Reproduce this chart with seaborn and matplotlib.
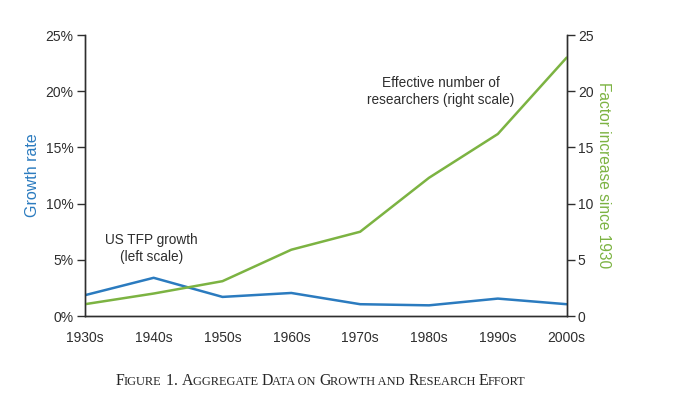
import pandas as pd
import seaborn as sns
from matplotlib import pyplot as plt
from matplotlib.ticker import FuncFormatter
from matplotlib.offsetbox import TextArea, HPacker, AnchoredOffsetbox

# data
decades = ['1930s', '1940s', '1950s', '1960s', '1970s', '1980s', '1990s', '2000s']
tfp_growth = [1.85, 3.4, 1.7, 2.05, 1.05, 0.95, 1.55, 1.05]          # percent, left scale
researchers = [1.05, 2.0, 3.1, 5.9, 7.5, 12.3, 16.2, 23.0]          # factor since 1930, right scale

df = pd.DataFrame({'decade': decades, 'tfp': tfp_growth, 'res': researchers})

blue = '#2b7bbf'
green = '#7cb342'
dark = '#2e2e2e'

sns.set_style('white')
plt.rcParams['font.family'] = ['Liberation Sans', 'DejaVu Sans']

fig = plt.figure(figsize=(6.73, 3.99), dpi=100)
ax = fig.add_axes([0.126, 0.208, 0.716, 0.704])
ax2 = ax.twinx()

sns.lineplot(data=df, x='decade', y='tfp', ax=ax, color=blue, linewidth=1.8, sort=False)
sns.lineplot(data=df, x='decade', y='res', ax=ax2, color=green, linewidth=1.8, sort=False)

ax.set_xlim(0, len(decades) - 1)
ax.set_ylim(0, 25)
ax2.set_ylim(0, 25)
ax.set_yticks(range(0, 26, 5))
ax2.set_yticks(range(0, 26, 5))
ax.yaxis.set_major_formatter(FuncFormatter(lambda v, p: f'{v:.0f}%'))

for a in (ax, ax2):
    a.spines['top'].set_visible(False)
    for s in ('left', 'right', 'bottom'):
        a.spines[s].set_color(dark)
        a.spines[s].set_linewidth(1.0)
    a.tick_params(colors=dark, labelsize=10, length=6, width=1, direction='out')
ax.tick_params(axis='x', pad=5)
ax.tick_params(axis='y', pad=2)
ax2.tick_params(axis='y', pad=2)

ax.set_xlabel('')
ax.set_ylabel('Growth rate', color=blue, fontsize=11.5, labelpad=4)
ax2.set_ylabel('Factor increase since 1930', color=green, fontsize=11.2,
               rotation=270, labelpad=13)

ax.text(0.97, 6.0, 'US TFP growth\n(left scale)', ha='center', va='center',
        fontsize=9.8, color=dark, linespacing=1.25)
ax2.text(5.17, 20.0, 'Effective number of\nresearchers (right scale)', ha='center',
         va='center', fontsize=9.8, color=dark, linespacing=1.25)

# caption in small caps
caption = [('F', 1), ('IGURE', 0), (' 1. ', 1), ('A', 1), ('GGREGATE ', 0), ('D', 1),
           ('ATA ON ', 0), ('G', 1), ('ROWTH AND ', 0), ('R', 1), ('ESEARCH ', 0),
           ('E', 1), ('FFORT', 0)]
parts = []
for txt, big in caption:
    parts.append(TextArea(txt, textprops=dict(fontsize=11.4 if big else 8.9, color='#262626',
                                              family=['Liberation Serif', 'DejaVu Serif'])))
pack = HPacker(children=parts, align='baseline', pad=0, sep=0)
box = AnchoredOffsetbox(loc='center', child=pack, frameon=False, pad=0, borderpad=0,
                        bbox_to_anchor=(0.476, 0.045), bbox_transform=fig.transFigure)
fig.add_artist(box)

fig.savefig('out.png', dpi=100)
